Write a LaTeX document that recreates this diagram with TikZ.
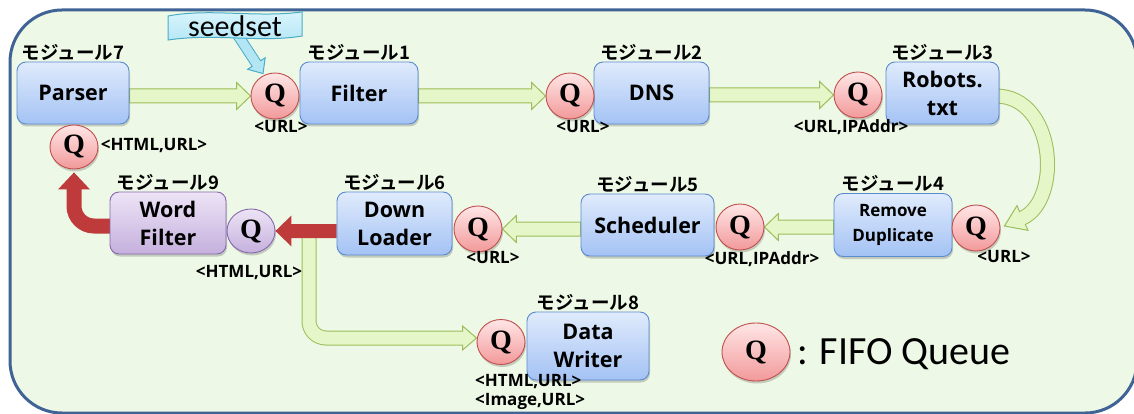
\documentclass[tikz,border=0pt]{standalone}
\usepackage{fontspec}
\setmainfont{Carlito}
\newfontfamily\osfam{Open Sans}
\newfontfamily\jpfam{Noto Sans CJK JP}[BoldFont={Noto Sans CJK JP Bold}]
\newfontfamily\qfam{Liberation Serif}
\usetikzlibrary{shapes.geometric,calc,shadows,positioning}

\definecolor{panelfill}{HTML}{EEF8E6}
\definecolor{panelline}{HTML}{3F6394}
\definecolor{boxtop}{HTML}{E0EBFC}
\definecolor{boxbot}{HTML}{A3C2F4}
\definecolor{boxline}{HTML}{5B8BCF}
\definecolor{purtop}{HTML}{EDE4F6}
\definecolor{purbot}{HTML}{C5B0DD}
\definecolor{purline}{HTML}{8768AE}
\definecolor{qtop}{HTML}{FFE6E6}
\definecolor{qbot}{HTML}{F2999A}
\definecolor{qline}{HTML}{C0504D}
\definecolor{arrfill}{HTML}{E5F6C8}
\definecolor{arrline}{HTML}{9CBE5A}
\definecolor{redarr}{HTML}{BF3A3A}
\definecolor{cyanfill}{HTML}{B3E6F5}
\definecolor{cyantop}{HTML}{DDF6FD}
\definecolor{cyanline}{HTML}{4BACC6}

\pgfdeclarelayer{panel}
\pgfdeclarelayer{links}
\pgfsetlayers{panel,links,main}

% straight block arrow: style, from, to, direction (1 = right, -1 = left),
% shaft half-width, head half-width, head length
\newcommand\flatarrow[7]{%
  \path[#1] let \p1=(#2), \p2=(#3) in
    ({\x1},{\y2+#5}) -- ({\x2-(#7)*(#4)},{\y2+#5}) -- ({\x2-(#7)*(#4)},{\y2+#6})
    -- (\p2) -- ({\x2-(#7)*(#4)},{\y2-#6}) -- ({\x2-(#7)*(#4)},{\y2-#5})
    -- ({\x1},{\y2-#5}) -- cycle;}

% arrow head on a stroked shaft: base, tip, half-width, fill, line
\newcommand\headat[5]{%
  \filldraw[fill=#4, draw=#5, line width=1pt, line join=miter]
    ($(#1)!#3!90:(#2)$) -- (#2) -- ($(#1)!#3!-90:(#2)$) -- cycle;}

\begin{document}
\begin{tikzpicture}[x=1pt,y=-1pt,
  softshadow/.style={drop shadow={shadow xshift=1pt, shadow yshift=-2.5pt, opacity=0.18, fill=black}},
  box/.style={rectangle, rounded corners=9pt, draw=boxline, line width=0.9pt,
    top color=boxtop, bottom color=boxbot, inner sep=0pt, align=center,
    font=\osfam\bfseries\fontsize{21.5}{28}\selectfont, softshadow},
  purplebox/.style={box, top color=purtop, bottom color=purbot, draw=purline},
  queue/.style={ellipse, draw=qline, line width=0.9pt, top color=qtop, bottom color=qbot,
    minimum width=48pt, minimum height=46pt, inner sep=0pt,
    font=\qfam\bfseries\fontsize{28}{28}\selectfont, softshadow},
  purplequeue/.style={queue, top color=purtop, bottom color=purbot, draw=purline},
  modlbl/.style={font=\jpfam\bfseries\fontsize{18.5}{20}\selectfont, inner sep=0pt},
  qlbl/.style={font=\osfam\bfseries\fontsize{17}{19}\selectfont, inner sep=0pt},
  greenblk/.style={fill=arrfill, draw=arrline, line width=1pt, line join=miter},
  redblk/.style={fill=redarr}
]
\useasboundingbox (0,0) rectangle (1134,414);

% rounded panel
\begin{pgfonlayer}{panel}
  \fill[white] (0,0) rectangle (1134,414);
  \draw[panelline, line width=3pt, fill=panelfill, rounded corners=52pt] (10,10) rectangle (1137,413);
\end{pgfonlayer}

% modules
\node[box, minimum width=112pt, minimum height=62pt] (parser) at (73,93) {Parser};
\node[box, minimum width=118pt, minimum height=62pt] (filter) at (359,93) {Filter};
\node[box, minimum width=115pt, minimum height=62pt] (dns) at (651.5,93) {DNS};
\node[box, minimum width=113pt, minimum height=62pt] (robots) at (942.5,93) {Robots.\\txt};
\node[box, minimum width=118pt, minimum height=63pt,
      font=\osfam\bfseries\fontsize{17}{25}\selectfont] (remdup) at (893,225) {Remove\\Duplicate};
\node[box, minimum width=133pt, minimum height=62pt] (sched) at (647.5,225) {Scheduler};
\node[box, minimum width=115pt, minimum height=63pt] (dl) at (394.5,223.5) {Down\\Loader};
\node[purplebox, minimum width=116pt, minimum height=62pt] (wf) at (168,223) {Word\\Filter};
\node[box, minimum width=122pt, minimum height=68pt] (dw) at (588,346) {Data\\Writer};

% module numbers
\node[modlbl, above=1pt of parser] (m7) {モジュール7};
\node[modlbl, above=1pt of filter] (m1) {モジュール1};
\node[modlbl, above=1pt of dns] (m2) {モジュール2};
\node[modlbl, above=1pt of robots] (m3) {モジュール3};
\node[modlbl, above=1pt of remdup] (m4) {モジュール4};
\node[modlbl, above=1pt of sched] (m5) {モジュール5};
\node[modlbl, above=1pt of dl] (m6) {モジュール6};
\node[modlbl, above=1pt of wf] (m9) {モジュール9};
\node[modlbl, above=1pt of dw] (m8) {モジュール8};

% queues
\node[queue] (q1) at (275,96) {Q};
\node[queue] (q2) at (570,96) {Q};
\node[queue] (q3) at (858,95) {Q};
\node[queue] (q4) at (976,228) {Q};
\node[queue] (q5) at (740,227) {Q};
\node[queue] (q6) at (478,229) {Q};
\node[purplequeue, minimum height=44pt] (pq) at (251,231) {Q};
\node[queue, minimum height=44pt] (q7) at (74,147) {Q};
\node[queue, minimum height=45pt] (q8) at (501,342) {Q};

% queue contents
\node[qlbl] (l1) at (281,127) {<URL>};
\node[qlbl] (l2) at (583,127) {<URL>};
\node[qlbl] (l3) at (851,127) {<URL,IPAddr>};
\node[qlbl] (l4) at (1004,257) {<URL>};
\node[qlbl] (l5) at (762,259) {<URL,IPAddr>};
\node[qlbl] (l6) at (493,258) {<URL>};
\node[qlbl] (l9) at (249,273) {<HTML,URL>};
\node[qlbl] (l7) at (154,146) {<HTML,URL>};
\node[qlbl, anchor=north west, align=left] (l8) at (475,374) {<HTML,URL>\\<Image,URL>};

% seedset callout
\shade[top color=cyantop, bottom color=cyanfill, draw=cyanline, line width=1pt]
  (168,16) .. controls (210,8) and (255,18) .. (302,12) -- (302,36)
  .. controls (262,43) and (215,33) .. (168,40) -- cycle;
\node[font=\fontsize{30}{30}\selectfont, inner sep=0pt] (seed) at (235,26) {seedset};

% legend
\node[queue, minimum width=68pt, minimum height=58pt] (qleg) at (756,352) {Q};
\node[anchor=base west, inner sep=0pt, font=\fontsize{40}{40}\selectfont] (legtxt) at (797,364) {: FIFO Queue};

% connectors
\begin{pgfonlayer}{links}
  % straight green arrows
  \flatarrow{greenblk}{parser.east}{q1.west}{1}{7pt}{13.5pt}{14pt}
  \flatarrow{greenblk}{filter.east}{q2.west}{1}{7pt}{13.5pt}{14pt}
  \flatarrow{greenblk}{dns.east}{q3.west}{1}{7pt}{13.5pt}{14pt}
  \flatarrow{greenblk}{remdup.west}{q5.east}{-1}{7pt}{13.5pt}{14pt}
  \flatarrow{greenblk}{sched.west}{q6.east}{-1}{7pt}{13.5pt}{14pt}

  % curved arrow Robots.txt -> queue of module 4
  \coordinate (c0) at ($(robots.east)+(-4,3)$);
  \coordinate (ct) at ($(q4.east)+(4,-2)$);
  \coordinate (cb) at ($(ct)+(18,-8)$);
  \draw[line width=15pt, arrline] (c0) .. controls (1056,96) and (1062,200) .. (cb);
  \headat{cb}{ct}{13.5pt}{arrfill}{arrline}
  \draw[line width=13pt, arrfill] (c0) .. controls (1056,96) and (1062,200) .. (cb) -- ($(cb)!1.5pt!(ct)$);

  % bent green arrow Down Loader -> Data Writer queue
  \coordinate (g0) at (309,236);
  \coordinate (gt) at ($(q8.west)+(0,-4)$);
  \coordinate (gb) at ($(gt)+(-14,0)$);
  \draw[line width=15pt, arrline, rounded corners=17pt] (g0) |- (gb);
  \headat{gb}{gt}{12pt}{arrfill}{arrline}
  \draw[line width=13pt, arrfill, rounded corners=17pt] (g0) |- ($(gb)+(1.5,0)$);

  % red arrows
  \flatarrow{redblk}{dl.west}{pq.east}{-1}{7pt}{15.5pt}{16pt}
  \coordinate (r0) at ($(wf.west)+(8,3)$);
  \coordinate (rt) at ($(q7.south)+(0,3)$);
  \coordinate (rb) at ($(rt)+(0,17)$);
  \draw[line width=15pt, redarr, rounded corners=20pt] (r0) -| ($(rb)+(0,-1)$);
  \fill[redarr] ($(rb)+(-16,0)$) -- (rt) -- ($(rb)+(16,0)$) -- cycle;

  % seedset pointer
  \coordinate (s0) at (237,34);
  \coordinate (st) at ($(q1.north)+(-12,1)$);
  \coordinate (sb) at ($(st)!12pt!(s0)$);
  \draw[line width=11pt, cyanline] (s0) -- (sb);
  \headat{sb}{st}{10.5pt}{cyanfill}{cyanline}
  \draw[line width=9pt, cyanfill] (s0) -- ($(sb)!1.5pt!(st)$);
\end{pgfonlayer}
\end{tikzpicture}
\end{document}
